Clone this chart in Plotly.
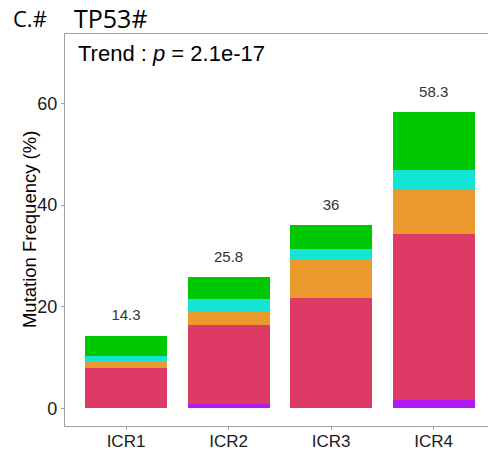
import plotly.graph_objects as go

categories = ["ICR1", "ICR2", "ICR3", "ICR4"]
purple = [0.0, 0.8, 0.0, 1.7]
red = [8.0, 15.6, 21.8, 32.7]
orange = [1.05, 2.7, 7.4, 8.6]
cyan = [1.15, 2.4, 2.2, 3.9]
green = [4.1, 4.3, 4.6, 11.4]
totals = [14.3, 25.8, 36, 58.3]
total_labels = ["14.3", "25.8", "36", "58.3"]

series = [
    ("purple", purple, "#B21AF3"),
    ("red", red, "#DD3A66"),
    ("orange", orange, "#EB9A2E"),
    ("cyan", cyan, "#14E3D6"),
    ("green", green, "#00C800"),
]

x = [1, 2, 3, 4]
fig = go.Figure()
for name, vals, col in series:
    fig.add_trace(go.Bar(x=x, y=vals, name=name, marker=dict(color=col, line=dict(width=0)),
                         width=0.8, showlegend=False, hoverinfo="skip"))

fig.add_trace(go.Scatter(x=x, y=[t + 3.8 for t in totals], mode="text", text=total_labels,
                         textfont=dict(family="Liberation Sans, Arial", size=15, color="#333333"),
                         showlegend=False, hoverinfo="skip"))

fig.update_layout(
    barmode="stack",
    width=488, height=451,
    margin=dict(l=65, r=0, t=34, b=25),
    paper_bgcolor="white", plot_bgcolor="white",
    xaxis=dict(range=[0.405, 4.53], tickvals=x, ticktext=categories, showgrid=False, zeroline=False,
               showline=True, linecolor="#A0A0A0", linewidth=1.2, mirror=True, automargin=False,
               ticks="outside", ticklen=3, tickcolor="#A0A0A0", ticklabelstandoff=-4,
               tickfont=dict(family="Liberation Sans, Arial", size=17, color="#1a1a1a")),
    yaxis=dict(range=[-3.5, 73.7], tickvals=[0, 20, 40, 60], showgrid=False, zeroline=False,
               showline=True, linecolor="#A0A0A0", linewidth=1.2, automargin=False,
               ticks="outside", ticklen=3, tickcolor="#A0A0A0",
               tickfont=dict(family="Liberation Sans, Arial", size=18, color="#1a1a1a")),
    annotations=[
        dict(text="Mutation Frequency (%)", xref="paper", yref="paper", x=-0.085, y=0.5,
             textangle=-90, showarrow=False, xanchor="center", yanchor="middle",
             font=dict(family="Liberation Sans, Arial", size=18.5, color="#000000")),
        dict(text="C.#", xref="paper", yref="paper", x=(11 - 65) / 423, y=(426 - 18) / 392,
             showarrow=False, xanchor="left", yanchor="middle",
             font=dict(family="Open Sans", size=22, color="#000000")),
        dict(text="TP53#", xref="paper", yref="paper", x=(72 - 65) / 423, y=(426 - 18) / 392,
             showarrow=False, xanchor="left", yanchor="middle",
             font=dict(family="Open Sans", size=25, color="#000000")),
        dict(text="Trend : <i>p</i> = 2.1e-17", xref="paper", yref="paper", x=(76 - 65) / 423,
             y=(426 - 54) / 392, showarrow=False, xanchor="left", yanchor="middle",
             font=dict(family="Liberation Sans, Arial", size=22, color="#000000")),
    ],
)

fig.write_html("out.html")
